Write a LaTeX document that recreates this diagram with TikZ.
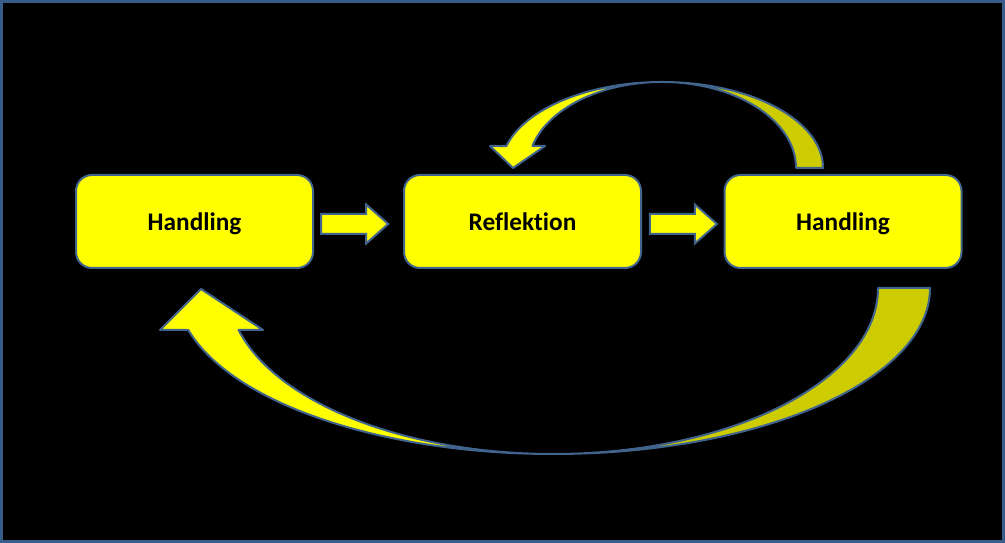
\documentclass[tikz,border=0pt]{standalone}
\usepackage{fontspec}
\setmainfont{Carlito}[Ligatures=NoCommon]
\usepackage{tikz}
\usepackage{xcolor}
\usetikzlibrary{shapes}
\usetikzlibrary{shapes.arrows,calc}
\definecolor{edgeblue}{RGB}{65,100,142}
\definecolor{frameblue}{RGB}{56,93,138}
\definecolor{boxyellow}{RGB}{255,255,0}
\definecolor{backyellow}{RGB}{204,204,0}
\tikzset{
	stepbox/.style={draw=edgeblue,line width=0.2mm,fill=boxyellow,rounded corners=1.6mm,
		minimum width=23.7mm,minimum height=9.3mm,text height=1.9mm,text depth=0mm,
		font=\fontsize{7.2}{9}\selectfont\bfseries},
	blockarrow/.style={single arrow,draw=edgeblue,line width=0.2mm,fill=boxyellow,
		inner xsep=0pt,inner ysep=0.9mm,single arrow head extend=0.95mm,
		single arrow tip angle=83,minimum height=6.7mm},
	curvefront/.style={draw=edgeblue,line width=0.2mm,fill=boxyellow,line join=round},
	curveback/.style={draw=edgeblue,line width=0.2mm,fill=backyellow,line join=round}
}

\begin{document}
\begin{tikzpicture}[x=0.1mm,y=0.1mm]

\useasboundingbox (0,0) rectangle (1005,543);
\draw[frameblue,line width=0.3mm,fill=black] (1.5,1.5) rectangle (1003.5,541.5);

%
\node[stepbox] (h1) at (194.5,321.5) {Handling};
\node[stepbox] (refl) at (522.5,321.5) {Reflektion};
\node[stepbox] (h2) at (843,321.5) {Handling};

\node[blockarrow] (a1) at ($(h1.east)!0.45!(refl.west)+(-5,-2.5)$) {};
\node[blockarrow] (a2) at ($(refl.east)!0.5!(h2.west)+(-5,-2.5)$) {};

% curved arrow back to Reflektion
\draw[curveback] (662,461) arc[start angle=90,end angle=0,x radius=16.1mm,y radius=8.6mm]
	-- (796,375) arc[start angle=0,end angle=90,x radius=13.4mm,y radius=8.6mm] -- cycle;
\draw[curvefront] (662,461) arc[start angle=90,end angle=165.2,x radius=16.1mm,y radius=8.6mm]
	-- (490,397) -- (513,375) -- (545,397) -- (532.4,397)
	arc[start angle=165.2,end angle=90,x radius=13.4mm,y radius=8.6mm] -- cycle;

% curved arrow back to the first Handling
\draw[curveback] (553,89) arc[start angle=270,end angle=360,x radius=37.7mm,y radius=16.6mm]
	-- (878,255) arc[start angle=360,end angle=270,x radius=32.5mm,y radius=16.6mm] -- cycle;
\draw[curvefront] (553,89) arc[start angle=270,end angle=194.66,x radius=37.7mm,y radius=16.6mm]
	-- (160,213) -- (201,254) -- (263,213) -- (238.6,213)
	arc[start angle=194.66,end angle=270,x radius=32.5mm,y radius=16.6mm] -- cycle;

\end{tikzpicture}
\end{document}
